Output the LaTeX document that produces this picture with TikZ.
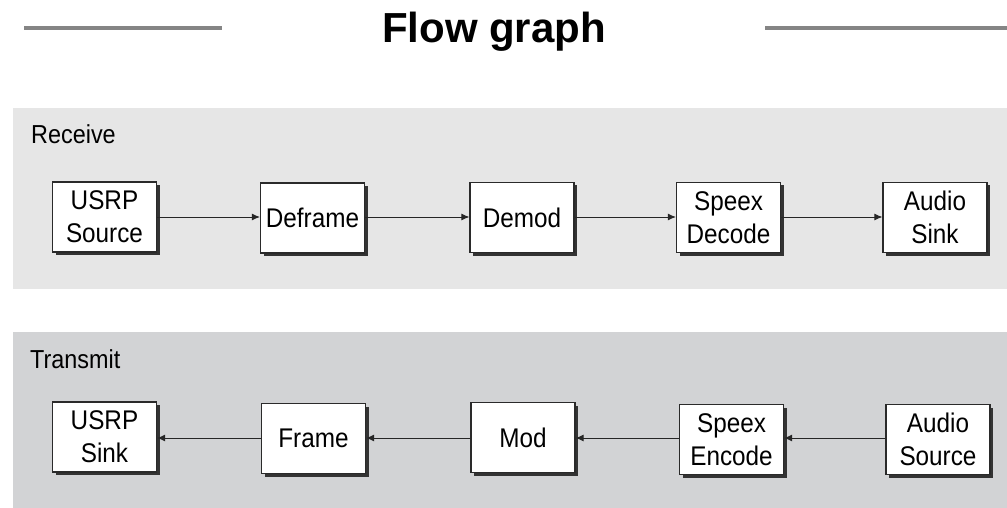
\documentclass[tikz,border=0pt]{standalone}
\usepackage{fontspec}
\setmainfont{Liberation Sans}
\newfontfamily\boxfont[FakeStretch=0.9]{Liberation Sans}
\usetikzlibrary{arrows.meta,shadows}
\definecolor{rxpanel}{HTML}{E6E6E6}
\definecolor{txpanel}{HTML}{D2D3D5}
\definecolor{titleline}{HTML}{858585}
\definecolor{boxline}{HTML}{2A2A2A}
\begin{document}
\begin{tikzpicture}[x=1pt,y=-1pt,
  blockbox/.style={draw=boxline, line width=1.1pt, fill=white, minimum width=104pt, minimum height=70pt,
    inner sep=0pt, align=center, font=\boxfont\fontsize{27}{33}\selectfont,
    general shadow={fill=black!80, shadow xshift=3pt, shadow yshift=-3pt}},
  flowarrow/.style={draw=black!85, line width=1pt, -{Latex[length=8pt,width=7pt]}},
  panellabel/.style={anchor=base west, inner sep=0pt, font=\boxfont\fontsize{26}{30}\selectfont},
  titleln/.style={draw=titleline, line width=4pt}]
\useasboundingbox (0,0) rectangle (1007,508);
% title
\node[anchor=base, inner sep=0pt, font=\bfseries\fontsize{42}{50}\selectfont] (title) at (494,43) {Flow graph};
\coordinate (tl1) at (24,28); \coordinate (tl2) at (222,28);
\coordinate (tr1) at (765,28); \coordinate (tr2) at (1007,28);
\draw[titleln] (tl1) -- (tl2);
\draw[titleln] (tr1) -- (tr2);
% panels
\fill[rxpanel] (13,108) rectangle (1007,289);
\fill[txpanel] (13,332) rectangle (1007,508);
\node[panellabel] (rxlabel) at (31,144) {Receive};
\node[panellabel] (txlabel) at (30,368) {Transmit};
% receive chain
\node[blockbox] (r1) at (104.5,217) {USRP\\Source};
\node[blockbox] (r2) at (312.5,218) {Deframe};
\node[blockbox] (r3) at (522,217.5) {Demod};
\node[blockbox] (r4) at (728.5,217.5) {Speex\\Decode};
\node[blockbox] (r5) at (935,217.5) {Audio\\Sink};
\draw[flowarrow] (r1.east |- 0,217) -- (r2.west |- 0,217);
\draw[flowarrow] (r2.east |- 0,217) -- (r3.west |- 0,217);
\draw[flowarrow] (r3.east |- 0,217) -- (r4.west |- 0,217);
\draw[flowarrow] (r4.east |- 0,217) -- (r5.west |- 0,217);
% transmit chain
\node[blockbox] (t1) at (104.5,437) {USRP\\Sink};
\node[blockbox] (t2) at (313.5,438.5) {Frame};
\node[blockbox] (t3) at (523,437.5) {Mod};
\node[blockbox] (t4) at (731.5,439.5) {Speex\\Encode};
\node[blockbox] (t5) at (938,439.5) {Audio\\Source};
\draw[flowarrow] (t5.west |- 0,438) -- (t4.east |- 0,438);
\draw[flowarrow] (t4.west |- 0,438) -- (t3.east |- 0,438);
\draw[flowarrow] (t3.west |- 0,438) -- (t2.east |- 0,438);
\draw[flowarrow] (t2.west |- 0,438) -- (t1.east |- 0,438);
\end{tikzpicture}
\end{document}
